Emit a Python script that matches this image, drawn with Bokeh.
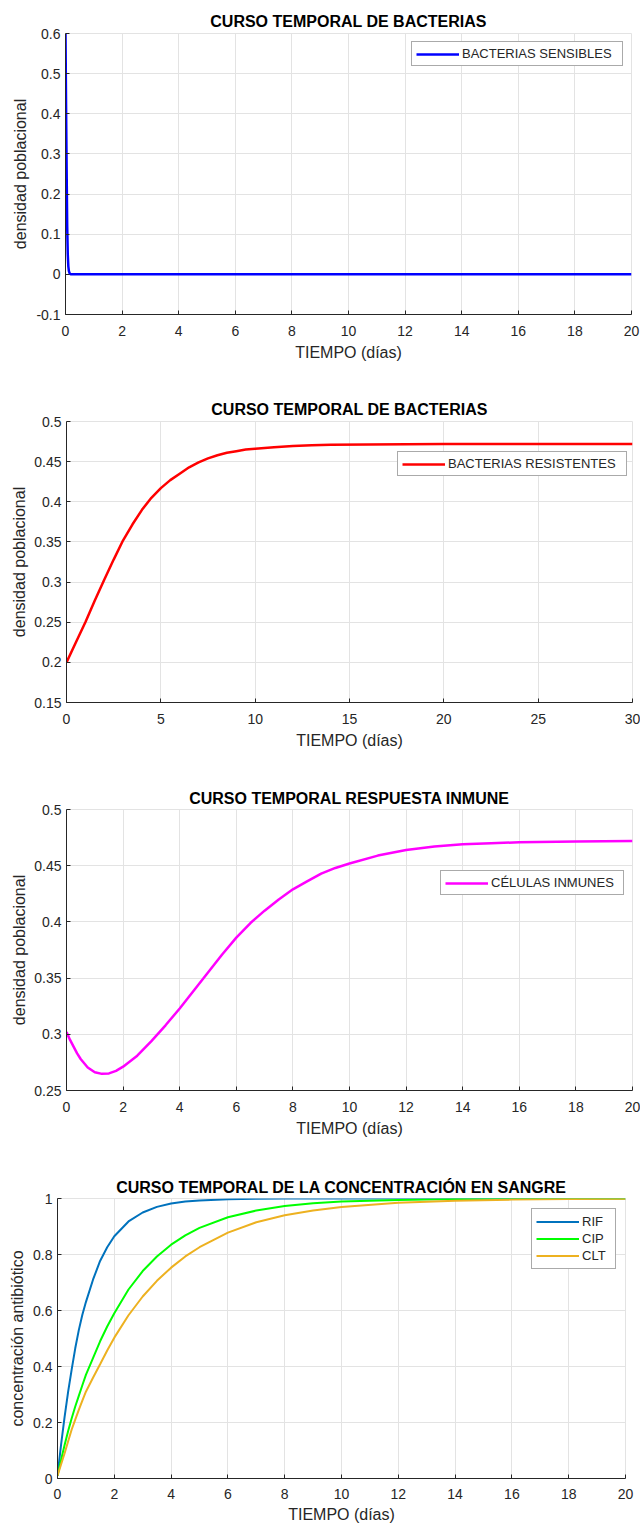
from bokeh.plotting import figure
from bokeh.layouts import column
from bokeh.models import Range1d, FixedTicker, CustomJSTickFormatter, Legend, LegendItem
from bokeh.embed import file_html
from bokeh.resources import INLINE

# ---------------- data ----------------
t_sens = [0, 0.02, 0.04, 0.06, 0.08, 0.1, 0.12, 0.15, 0.2, 20]
bact_sens = [0.6, 0.42, 0.26, 0.12, 0.05, 0.02, 0.008, 0.002, 0.0, 0.0]

t_res = [0, 0.5, 1, 1.5, 2, 2.5, 3, 3.5, 4, 4.5, 5, 5.5, 6, 6.5, 7, 7.5, 8, 8.5, 9, 9.5, 10,
         11, 12, 13, 14, 16, 20, 25, 30]
bact_res = [0.2, 0.225, 0.25, 0.277, 0.303, 0.328, 0.352, 0.372, 0.39, 0.405, 0.417, 0.427,
            0.435, 0.443, 0.449, 0.454, 0.458, 0.461, 0.463, 0.465, 0.466,
            0.468, 0.4695, 0.4705, 0.471, 0.4715, 0.472, 0.472, 0.472]

t_inm = [0, 0.125, 0.25, 0.375, 0.5, 0.75, 1, 1.25, 1.5, 1.75, 2, 2.5, 3, 3.5, 4, 4.5, 5, 5.5,
         6, 6.5, 7, 7.5, 8, 8.5, 9, 9.5, 10, 11, 12, 13, 14, 15, 16, 18, 20]
cel_inm = [0.302, 0.295, 0.289, 0.283, 0.278, 0.2705, 0.2662, 0.2648, 0.2652, 0.2675, 0.2712,
           0.281, 0.294, 0.308, 0.323, 0.339, 0.355, 0.371, 0.386, 0.399, 0.41, 0.42, 0.429,
           0.436, 0.443, 0.448, 0.452, 0.459, 0.464, 0.467, 0.469, 0.47, 0.4708, 0.4715, 0.472]

t_conc = [0, 0.125, 0.25, 0.375, 0.5, 0.625, 0.75, 0.875, 1, 1.25, 1.5, 1.75, 2, 2.5, 3, 3.5,
          4, 4.5, 5, 6, 7, 8, 9, 10, 12, 14, 16, 18, 20]
rif = [0.01, 0.12, 0.22, 0.31, 0.39, 0.465, 0.53, 0.585, 0.63, 0.71, 0.777, 0.826, 0.865,
       0.918, 0.95, 0.97, 0.982, 0.989, 0.993, 0.9975, 0.999, 1, 1, 1, 1, 1, 1, 1, 1]
cip = [0.01, 0.066, 0.12, 0.17, 0.215, 0.257, 0.295, 0.333, 0.37, 0.43, 0.49, 0.543, 0.59,
       0.675, 0.741, 0.793, 0.835, 0.868, 0.895, 0.933, 0.957, 0.973, 0.983, 0.989, 0.995,
       0.998, 0.999, 1, 1]
clt = [0.01, 0.05, 0.09, 0.133, 0.175, 0.21, 0.245, 0.278, 0.31, 0.36, 0.408, 0.457, 0.503,
       0.583, 0.65, 0.706, 0.753, 0.793, 0.826, 0.878, 0.915, 0.94, 0.957, 0.97, 0.985, 0.992,
       0.996, 0.998, 0.999]

x_ticks_20 = [0, 2, 4, 6, 8, 10, 12, 14, 16, 18, 20]
x_ticks_30 = [0, 5, 10, 15, 20, 25, 30]
y_ticks_1 = [-0.1, 0, 0.1, 0.2, 0.3, 0.4, 0.5, 0.6]
y_ticks_2 = [0.15, 0.2, 0.25, 0.3, 0.35, 0.4, 0.45, 0.5]
y_ticks_3 = [0.25, 0.3, 0.35, 0.4, 0.45, 0.5]
y_ticks_4 = [0, 0.2, 0.4, 0.6, 0.8, 1]

FONT = "Liberation Sans"
DARK = "#262626"
GRID = "#e3e3e3"

fmt = CustomJSTickFormatter(code="return String(Math.round(tick*1000)/1000);")


def make_fig(height, top, left, right, bottom, xr, yr, xt, yt, title, ylabel,
             title_so, ylab_so, xtick_so=11, xlab_so=5):
    p = figure(width=640, height=height, x_range=Range1d(*xr), y_range=Range1d(*yr),
               output_backend="svg", toolbar_location=None, title=title,
               min_border_top=top, min_border_left=left, min_border_right=right,
               min_border_bottom=bottom)
    p.title.text_font = FONT
    p.title.text_font_size = "16px"
    p.title.text_font_style = "bold"
    p.title.text_color = "black"
    p.title.align = "center"
    p.title.standoff = title_so
    p.outline_line_color = GRID
    p.background_fill_color = "white"
    p.border_fill_color = "white"
    p.xaxis.ticker = FixedTicker(ticks=xt)
    p.yaxis.ticker = FixedTicker(ticks=yt)
    p.xaxis.formatter = fmt
    p.yaxis.formatter = fmt
    for ax in (p.xaxis, p.yaxis):
        ax.major_label_text_font = FONT
        ax.major_label_text_font_size = "14px"
        ax.major_label_text_color = DARK
        ax.axis_label_text_font = FONT
        ax.axis_label_text_font_size = "16px"
        ax.axis_label_text_font_style = "normal"
        ax.axis_label_text_color = DARK
        ax.major_tick_in = 4
        ax.major_tick_out = 0
        ax.minor_tick_in = 0
        ax.minor_tick_out = 0
        ax.axis_line_color = DARK
        ax.major_tick_line_color = DARK
    p.xaxis.axis_label = "TIEMPO (días)"
    p.yaxis.axis_label = ylabel
    p.xaxis.major_label_standoff = xtick_so
    p.xaxis.axis_label_standoff = xlab_so
    p.yaxis.major_label_standoff = 5
    p.yaxis.axis_label_standoff = ylab_so
    p.grid.grid_line_color = GRID
    p.grid.grid_line_width = 1
    return p


def add_legend(p, items, loc, label_w, glyph_h=14):
    leg = Legend(items=items, location=loc, padding=4, margin=0, spacing=0,
                 glyph_width=43, glyph_height=glyph_h, label_height=glyph_h,
                 label_width=label_w, label_standoff=3,
                 label_text_font=FONT, label_text_font_size="13px",
                 label_text_color=DARK, border_line_color="#555555",
                 border_line_width=1, background_fill_color="white",
                 background_fill_alpha=1)
    p.add_layout(leg, "center")


# Panel 1
p1 = make_fig(390, 33, 65, 9, 76, (0, 20), (-0.1, 0.6), x_ticks_20, y_ticks_1,
              "CURSO TEMPORAL DE BACTERIAS", "densidad poblacional", 8, 4)
r1 = p1.line(t_sens, bact_sens, line_color="#0000ff", line_width=2.5)
add_legend(p1, [LegendItem(label="BACTERIAS SENSIBLES", renderers=[r1])], (346, 248), 156)

# Panel 2
p2 = make_fig(390, 31, 66, 8, 78, (0, 30), (0.15, 0.5), x_ticks_30, y_ticks_2,
              "CURSO TEMPORAL DE BACTERIAS", "densidad poblacional", 7, 3)
r2 = p2.line(t_res, bact_res, line_color="#ff0000", line_width=2.5)
add_legend(p2, [LegendItem(label="BACTERIAS RESISTENTES", renderers=[r2])], (331, 226), 174)

# Panel 3
p3 = make_fig(380, 29, 66, 8, 70, (0, 20), (0.25, 0.5), x_ticks_20, y_ticks_3,
              "CURSO TEMPORAL RESPUESTA INMUNE", "densidad poblacional", 5, 3)
r3 = p3.line(t_inm, cel_inm, line_color="#ff00ff", line_width=2.5)
add_legend(p3, [LegendItem(label="CÉLULAS INMUNES", renderers=[r3])], (374, 195), 128)

# Panel 4
p4 = make_fig(366, 38, 57, 15, 48, (0, 20), (0, 1), x_ticks_20, y_ticks_4,
              "CURSO TEMPORAL DE LA CONCENTRACIÓN EN SANGRE", "concentración antibiótico",
              5, 4, xtick_so=10, xlab_so=4)
ra = p4.line(t_conc, rif, line_color="#0072bd", line_width=2)
rb = p4.line(t_conc, cip, line_color="#00ff00", line_width=2)
rc = p4.line(t_conc, clt, line_color="#edb120", line_width=2)
add_legend(p4, [LegendItem(label="RIF", renderers=[ra]),
                LegendItem(label="CIP", renderers=[rb]),
                LegendItem(label="CLT", renderers=[rc])], (474, 209), 29, glyph_h=17)

layout = column(column(p1), column(p2), column(p3), column(p4), spacing=0)
open("out.html", "w").write(file_html(layout, INLINE))
